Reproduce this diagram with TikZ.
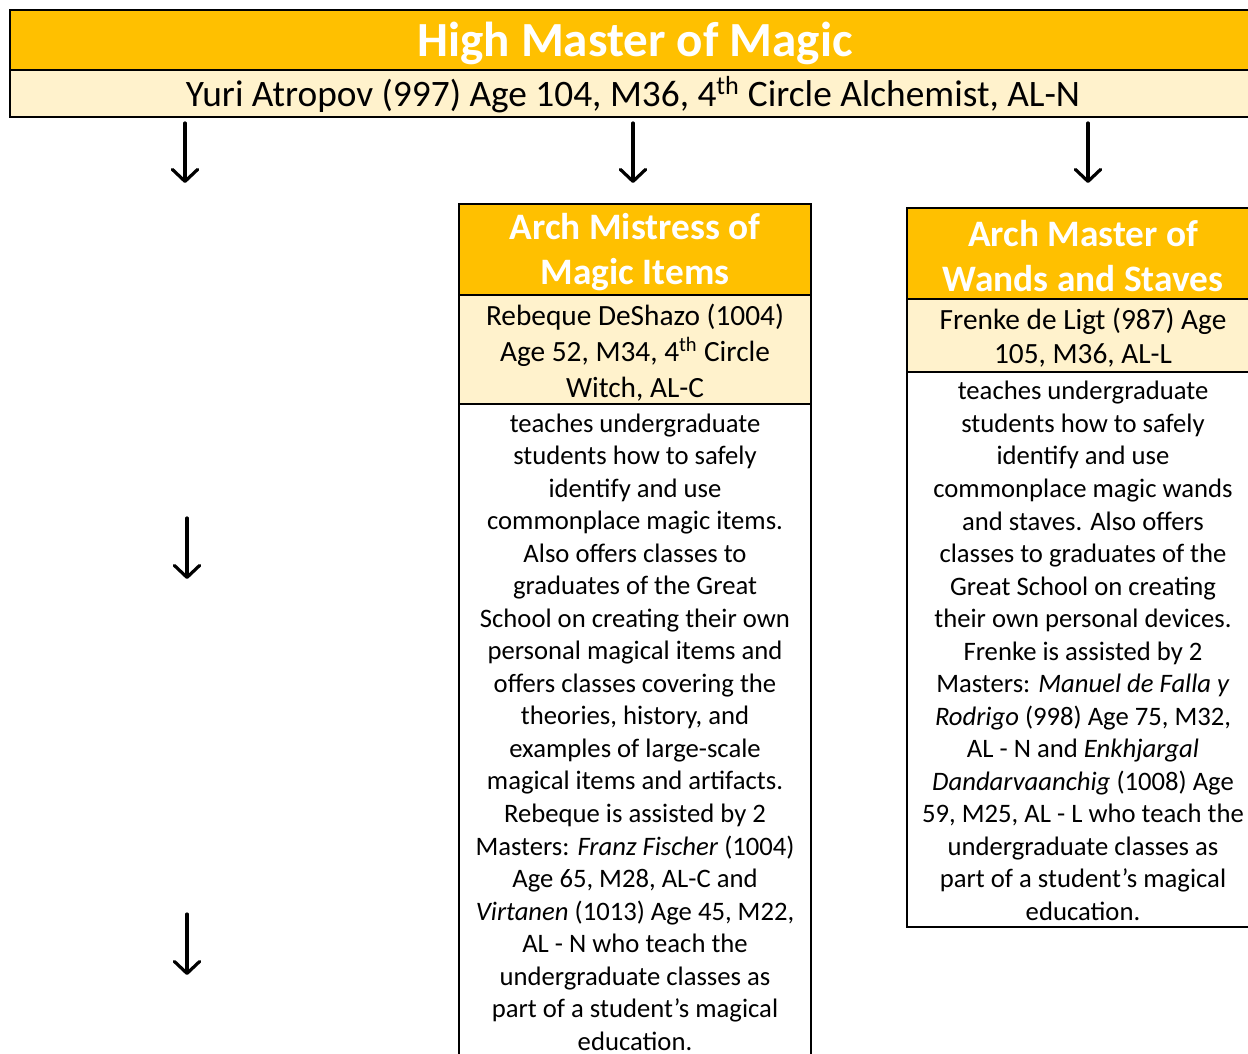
\documentclass[tikz,border=0pt]{standalone}
\usepackage{fontspec}
\setmainfont{Carlito}
\usetikzlibrary{arrows.meta}
\definecolor{hdr}{HTML}{FFC000}
\definecolor{lite}{HTML}{FFF2CC}
\begin{document}
\begin{tikzpicture}[x=0.75pt,y=-0.75pt,
  boxline/.style={draw=black,line width=1.3pt},
  topline/.style={draw=black,line width=1.8pt},
  hdrtext/.style={text=white,font=\bfseries\fontsize{28pt}{34pt}\selectfont,align=center,inner sep=0pt},
  nametext/.style={text=black,align=center,inner sep=0pt},
  bodytext/.style={text=black,font=\fontsize{20pt}{24.4pt}\selectfont,align=center,inner sep=0pt},
  arr/.style={line width=2.4pt,line cap=round,-{Straight Barb[length=9pt,width=19pt,line width=2.4pt,round]}}]
\useasboundingbox (0,0) rectangle (1248,1053);
\clip (0,0) rectangle (1248,1053);
\fill[white] (0,0) rectangle (1248,1053);
% top box
\filldraw[fill=hdr,topline] (10,10) rectangle (1262,70);
\filldraw[fill=lite,topline] (10,70) rectangle (1262,117);
\node[text=white,font=\bfseries\fontsize{36.8pt}{40pt}\selectfont,inner sep=0pt] (title) at (635,43) {High Master of Magic};
\node[text=black,font=\fontsize{28pt}{32pt}\selectfont,inner sep=0pt] (yuri) at (633,95) {Yuri Atropov (997) Age 104, M36, 4\textsuperscript{th} Circle Alchemist, AL-N};
% middle box
\filldraw[fill=hdr,boxline] (459,204) rectangle (811,295);
\filldraw[fill=lite,boxline] (459,295) rectangle (811,404);
\filldraw[fill=white,boxline] (459,404) rectangle (811,1080);
\node[hdrtext] (mhdr) at (635,252) {Arch Mistress of\\Magic Items};
\node[nametext,font=\fontsize{22pt}{27pt}\selectfont] (mname) at (635,353) {Rebeque DeShazo (1004)\\Age 52, M34, 4\textsuperscript{th} Circle\\Witch, AL-C};
\node[bodytext] (mbody) at (635,732) {teaches undergraduate\\students how to safely\\identify and use\\commonplace magic items.\\Also offers classes to\\graduates of the Great\\School on creating their own\\personal magical items and\\offers classes covering the\\theories, history, and\\examples of large-scale\\magical items and artifacts.\\Rebeque is assisted by 2\\Masters: \textit{Franz Fischer} (1004)\\Age 65, M28, AL-C and\\\textit{Virtanen} (1013) Age 45, M22,\\AL - N who teach the\\undergraduate classes as\\part of a student’s magical\\education.};
% right box
\filldraw[fill=hdr,boxline] (907,208) rectangle (1259,299);
\filldraw[fill=lite,boxline] (907,299) rectangle (1259,372);
\filldraw[fill=white,boxline] (907,372) rectangle (1259,927);
\node[hdrtext] (rhdr) at (1083,256) {Arch Master of\\Wands and Staves};
\node[nametext,font=\fontsize{22pt}{25.5pt}\selectfont] (rname) at (1083,338) {Frenke de Ligt (987) Age\\105, M36, AL-L};
\node[bodytext] (rbody) at (1083,651) {teaches undergraduate\\students how to safely\\identify and use\\commonplace magic wands\\and staves. Also offers\\classes to graduates of the\\Great School on creating\\their own personal devices.\\Frenke is assisted by 2\\Masters: \textit{Manuel de Falla y}\\\textit{Rodrigo} (998) Age 75, M32,\\AL - N and \textit{Enkhjargal}\\\textit{Dandarvaanchig} (1008) Age\\59, M25, AL - L who teach the\\undergraduate classes as\\part of a student’s magical\\education.};
% arrows
\coordinate (a1s) at (185,123); \coordinate (a1e) at (185,183);
\coordinate (a2s) at (633,123); \coordinate (a2e) at (633,183);
\coordinate (a3s) at (1088,123); \coordinate (a3e) at (1088,183);
\coordinate (a4s) at (187,518); \coordinate (a4e) at (187,579);
\coordinate (a5s) at (187,914); \coordinate (a5e) at (187,975);
\draw[arr] (a1s) -- (a1e);
\draw[arr] (a2s) -- (a2e);
\draw[arr] (a3s) -- (a3e);
\draw[arr] (a4s) -- (a4e);
\draw[arr] (a5s) -- (a5e);
\end{tikzpicture}
\end{document}
